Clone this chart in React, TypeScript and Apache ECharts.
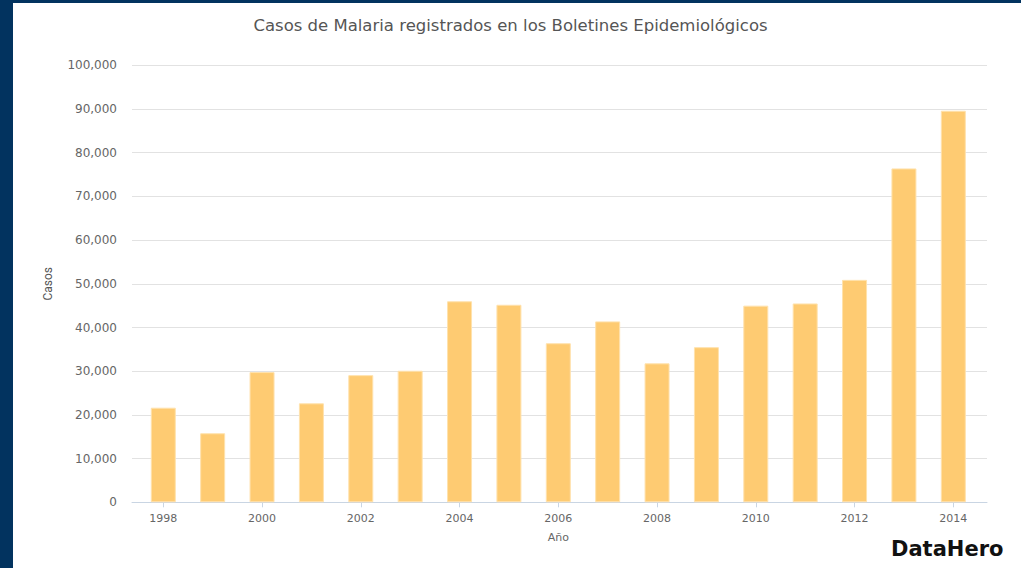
import React, { useEffect, useRef } from "react";
import * as echarts from "echarts";

const years = ["1998","1999","2000","2001","2002","2003","2004","2005","2006","2007","2008","2009","2010","2011","2012","2013","2014"];
const casos = [21650, 15800, 29800, 22650, 29100, 30100, 46000, 45200, 36400, 41400, 31800, 35500, 45000, 45500, 50900, 76400, 89600];
const titleText = "Casos de Malaria registrados en los Boletines Epidemiológicos";
const yName = "Casos";
const xName = "Año";

const FONT = "DejaVu Sans";

export default function App() {
  const ref = useRef<HTMLDivElement>(null);
  useEffect(() => {
    const chart = echarts.init(ref.current!, null, { renderer: "svg" });
    const W = 1021, H = 568;
    const top = 65.3, bottom = H - 502.3;
    chart.setOption({
      animation: false,
      backgroundColor: "#ffffff",
      title: {
        text: titleText,
        left: "center",
        top: 12,
        textStyle: { fontFamily: FONT, fontSize: 16.5, fontWeight: "normal", color: "#555" },
      },
      grid: [
        { left: 132, right: W - 987, top, bottom },
        { left: 138.6, right: W - 978, top, bottom },
      ],
      xAxis: [
        {
          gridIndex: 0, type: "category", data: years,
          axisLine: { lineStyle: { color: "#c9d5e3", width: 1 } },
          axisTick: { show: false }, axisLabel: { show: false },
        },
        {
          gridIndex: 1, type: "category", data: years,
          axisLine: { show: false },
          axisTick: { show: true, interval: 1, alignWithLabel: true, length: 5, lineStyle: { color: "#c9d5e3" } },
          axisLabel: { interval: 1, margin: 11, fontFamily: FONT, fontSize: 11, color: "#666" },
          name: xName, nameLocation: "middle", nameGap: 30,
          nameTextStyle: { fontFamily: FONT, fontSize: 11, color: "#666" },
        },
      ],
      yAxis: [
        {
          gridIndex: 0, type: "value", min: 0, max: 100000, interval: 10000,
          axisLine: { show: false }, axisTick: { show: false },
          axisLabel: {
            margin: 15, fontFamily: FONT, fontSize: 12, color: "#666",
            formatter: (v: number) => v.toLocaleString("en-US"),
          },
          splitLine: { lineStyle: { color: "#e2e2e2", width: 1 } },
          name: yName, nameLocation: "middle", nameGap: 78, nameRotate: 90,
          nameTextStyle: { fontFamily: "Liberation Sans Narrow, Roboto", fontSize: 12, color: "#555" },
        },
        {
          gridIndex: 1, type: "value", min: 0, max: 100000, interval: 10000,
          show: false,
        },
      ],
      series: [
        {
          type: "bar", xAxisIndex: 1, yAxisIndex: 1, data: casos,
          barWidth: 25,
          itemStyle: { color: "#fecb72", borderColor: "#ffe2ad", borderWidth: 1 },
        },
      ],
      graphic: [
        { type: "rect", shape: { x: 0, y: 0, width: 13, height: H }, style: { fill: "#02335f" }, z: 100 },
        { type: "rect", shape: { x: 0, y: 0, width: W, height: 3 }, style: { fill: "#02335f" }, z: 100 },
        {
          type: "text", x: 891, y: 538, z: 100,
          style: { text: "DataHero", fontFamily: "DejaVu Sans", fontSize: 21, fontWeight: "bold", fill: "#111" },
        },
      ],
    });
    return () => chart.dispose();
  }, []);
  return <div ref={ref} style={{ position: "absolute", left: 0, top: 0, width: 1021, height: 568 }} />;
}
